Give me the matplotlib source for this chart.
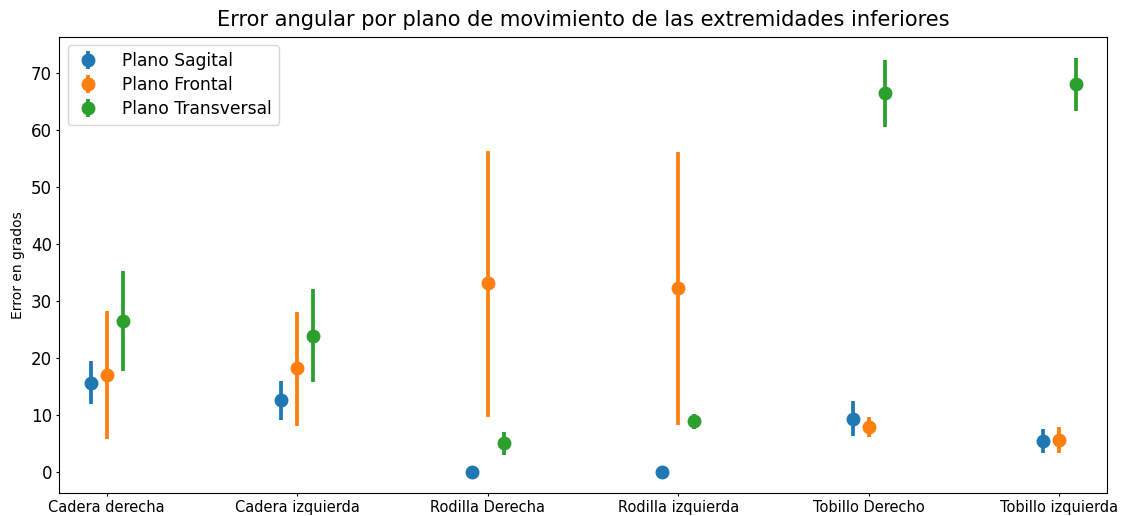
import matplotlib.pyplot as plt
import numpy as np


articulaciones = ["Cadera derecha", "Cadera izquierda", "Rodilla Derecha",
                  "Rodilla izquierda", "Tobillo Derecho", "Tobillo izquierda"]
planos = ["Plano Sagital", "Plano Frontal", "Plano Transversal"]

# media del error y limites del intervalo (grados)
sagital_media = [15.6, 12.7, 0.0, 0.0, 9.3, 5.5]
sagital_inf = [12.0, 9.2, 0.0, 0.0, 6.4, 3.3]
sagital_sup = [19.4, 16.0, 0.0, 0.0, 12.4, 7.6]

frontal_media = [17.0, 18.2, 33.1, 32.3, 7.9, 5.7]
frontal_inf = [5.8, 8.1, 9.7, 8.3, 6.1, 3.3]
frontal_sup = [28.3, 28.1, 56.3, 56.1, 9.6, 8.0]

transversal_media = [26.5, 23.9, 5.1, 9.0, 66.4, 68.0]
transversal_inf = [17.8, 15.8, 3.0, 7.5, 60.4, 63.3]
transversal_sup = [35.3, 32.1, 7.1, 10.2, 72.2, 72.5]

colores = ["#1f77b4", "#ff7f0e", "#2ca02c"]
series = [
    (sagital_media, sagital_inf, sagital_sup),
    (frontal_media, frontal_inf, frontal_sup),
    (transversal_media, transversal_inf, transversal_sup),
]

fig = plt.figure(figsize=(11.24, 5.16), dpi=100)
ax = fig.add_axes([0.0525, 0.044, 0.9325, 0.885])

x = np.arange(len(articulaciones))
desplaz = [-0.084, 0.0, 0.084]

for (media, inf, sup), nombre, color, dx in zip(series, planos, colores, desplaz):
    media = np.array(media)
    err = [media - np.array(inf), np.array(sup) - media]
    ax.errorbar(x + dx, media, yerr=err, fmt="o", color=color,
                markersize=9, elinewidth=2.7, capsize=0, label=nombre)

ax.set_xlim(-0.25, 5.25)
ax.set_ylim(-3.7, 76.3)
ax.set_xticks(x)
ax.set_xticklabels(articulaciones, fontsize=10.5)
ax.tick_params(axis="x", length=2.5, pad=2.5)
ax.tick_params(axis="y", labelsize=12, length=2.5, pad=2.5)
ax.set_ylabel("Error en grados", fontsize=10, labelpad=4)
ax.set_title("Error angular por plano de movimiento de las extremidades inferiores",
             fontsize=15.1, pad=8)
ax.legend(loc="upper left", fontsize=12.3, handlelength=1.6, handletextpad=1.2,
          labelspacing=0.35, borderaxespad=0.5)

fig.savefig("out.png", dpi=100)
